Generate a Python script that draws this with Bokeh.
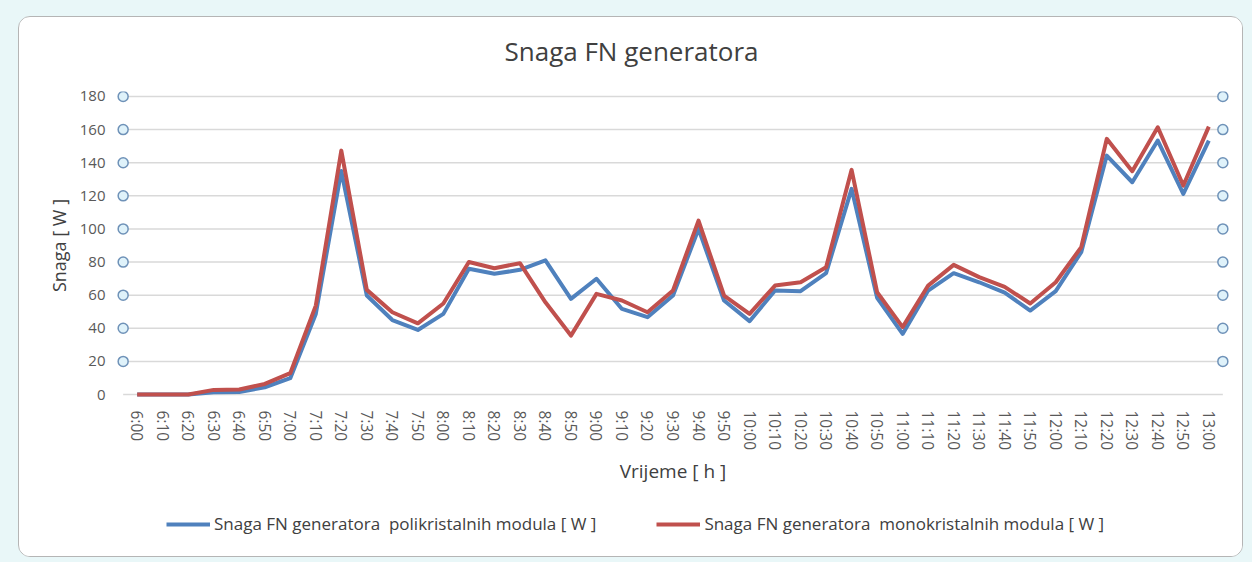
from bokeh.plotting import figure
from bokeh.models import FixedTicker, Legend, LegendItem, Range1d, Label
from bokeh.layouts import column
from bokeh.embed import file_html
from bokeh.resources import INLINE

times = ["6:00", "6:10", "6:20", "6:30", "6:40", "6:50",
         "7:00", "7:10", "7:20", "7:30", "7:40", "7:50",
         "8:00", "8:10", "8:20", "8:30", "8:40", "8:50",
         "9:00", "9:10", "9:20", "9:30", "9:40", "9:50",
         "10:00", "10:10", "10:20", "10:30", "10:40", "10:50",
         "11:00", "11:10", "11:20", "11:30", "11:40", "11:50",
         "12:00", "12:10", "12:20", "12:30", "12:40", "12:50",
         "13:00"]

poly = [0, 0, 0, 1.4, 1.5, 4.4,
        9.9, 48.7, 135, 59.8, 45, 39,
        48.7, 76, 72.9, 75.3, 81, 57.8,
        69.9, 51.7, 46.7, 59.8, 100, 56.8,
        44.3, 62.8, 62.4, 73.3, 124.2, 58.4,
        36.6, 62.8, 73.3, 67.8, 61.5, 50.7,
        62.4, 86, 144.3, 128.2, 153.4, 121.2,
        153.4]

mono = [0, 0, 0, 2.8, 3, 6.4,
        12.9, 53.7, 147.3, 63.2, 49.7, 43,
        55, 80, 76.3, 79.3, 55.7, 35.6,
        60.8, 56.8, 49.7, 62.8, 105, 59.8,
        48.7, 65.8, 67.8, 76.9, 135.7, 61.8,
        40.7, 65.8, 78.3, 70.9, 65, 55,
        67.8, 89, 154.4, 134.9, 161.4, 126.2,
        161.8]

y_ticks = [0, 20, 40, 60, 80, 100, 120, 140, 160, 180]

title_text = "Snaga FN generatora"
x_label = "Vrijeme [ h ]"
y_label = "Snaga [ W ]"
name_poly = "Snaga FN generatora  polikristalnih modula [ W ]"
name_mono = "Snaga FN generatora  monokristalnih modula [ W ]"

FONT = "Open Sans"
BLUE = "#4f81bd"
RED = "#c0504d"
idx = list(range(len(times)))
n = len(times)
edge = 0.55
W = 1223

# title strip
pt = figure(width=W, height=60, output_backend="svg", toolbar_location=None,
            x_range=Range1d(0, 1), y_range=Range1d(0, 1),
            x_axis_location=None, y_axis_location=None, min_border=0)
pt.outline_line_color = None
pt.grid.visible = False
pt.border_fill_color = "white"
pt.background_fill_color = "white"
pt.add_layout(Label(x=516, y=27, x_units="screen", y_units="screen",
                    text=title_text, text_align="center", text_baseline="middle",
                    text_font=FONT, text_font_size="26px", text_color="#404040"))

# main chart
p = figure(width=W, height=426, output_backend="svg", toolbar_location=None,
           x_range=Range1d(-0.85, n - 1 + 0.85), y_range=Range1d(-3, 183),
           min_border_left=96, min_border_right=12, min_border_top=14,
           min_border_bottom=104)
p.outline_line_color = None
p.background_fill_color = "white"
p.border_fill_color = "white"
p.grid.visible = False

# gridlines (incl. zero line) between the axis marker circles
left_x = -edge
right_x = n - 1 + edge
p.segment(x0=[left_x] * len(y_ticks), x1=[right_x] * len(y_ticks),
          y0=y_ticks, y1=y_ticks, line_color="#d9d9d9", line_width=1.5)

marker_ticks = [t for t in y_ticks if t > 0]
p.scatter(x=[left_x] * len(marker_ticks), y=marker_ticks, size=10,
          fill_color="#dff2fa", line_color="#6f92b8", line_width=1.5)
p.scatter(x=[right_x] * len(marker_ticks), y=marker_ticks, size=10,
          fill_color="#dff2fa", line_color="#6f92b8", line_width=1.5)

p.line(idx, poly, line_color=BLUE, line_width=4, line_join="round")
p.line(idx, mono, line_color=RED, line_width=4, line_join="round")

# axes
p.yaxis.ticker = FixedTicker(ticks=y_ticks)
p.yaxis.axis_line_color = None
p.yaxis.major_tick_line_color = None
p.yaxis.minor_tick_line_color = None
p.yaxis.major_label_standoff = 4
p.yaxis.major_label_text_font = FONT
p.yaxis.major_label_text_font_size = "15px"
p.yaxis.major_label_text_color = "#595959"
p.yaxis.axis_label = y_label
p.yaxis.axis_label_text_font = FONT
p.yaxis.axis_label_text_font_size = "18px"
p.yaxis.axis_label_text_font_style = "normal"
p.yaxis.axis_label_text_color = "#404040"
p.yaxis.axis_label_standoff = 6

p.xaxis.ticker = FixedTicker(ticks=idx)
p.xaxis.major_label_overrides = {i: t for i, t in zip(idx, times)}
p.xaxis.major_label_orientation = "vertical"
p.xaxis.axis_line_color = None
p.xaxis.major_tick_line_color = None
p.xaxis.minor_tick_line_color = None
p.xaxis.major_label_standoff = 5
p.xaxis.major_label_text_font = FONT
p.xaxis.major_label_text_font_size = "15.5px"
p.xaxis.major_label_text_color = "#595959"
p.xaxis.axis_label = x_label
p.xaxis.axis_label_text_font = FONT
p.xaxis.axis_label_text_font_size = "19px"
p.xaxis.axis_label_text_font_style = "normal"
p.xaxis.axis_label_text_color = "#404040"
p.xaxis.axis_label_standoff = 5

# legend strip below the chart; its series lines lie outside its view,
# only the legend swatches show
pl = figure(width=W, height=53, output_backend="svg", toolbar_location=None,
            x_range=Range1d(0, 1), y_range=Range1d(-20, -10),
            x_axis_location=None, y_axis_location=None, min_border=0)
pl.outline_line_color = None
pl.grid.visible = False
pl.border_fill_color = "white"
pl.background_fill_color = "white"
sw1 = pl.line(idx, poly, line_color=BLUE, line_width=4)
sw2 = pl.line(idx, mono, line_color=RED, line_width=4)

legend = Legend(items=[LegendItem(label=name_poly, renderers=[sw1]),
                       LegendItem(label=name_mono, renderers=[sw2])],
                orientation="horizontal", location=(51, 21))
legend.border_line_color = None
legend.background_fill_alpha = 0
legend.label_text_font = FONT
legend.label_text_font_size = "17px"
legend.label_text_color = "#404040"
legend.glyph_width = 44
legend.label_standoff = 4
legend.spacing = 60
legend.padding = 10
legend.margin = 0
pl.add_layout(legend, "center")

inner = column(pt, p, pl, spacing=0,
               styles={"border": "1px solid #b5b5b5", "border-radius": "12px",
                       "overflow": "hidden", "background-color": "white"})
outer = column(inner, styles={"background-color": "#e9f7f8",
                              "padding": "16px 9px 5px 18px"})

open("out.html", "w").write(file_html(outer, INLINE))
